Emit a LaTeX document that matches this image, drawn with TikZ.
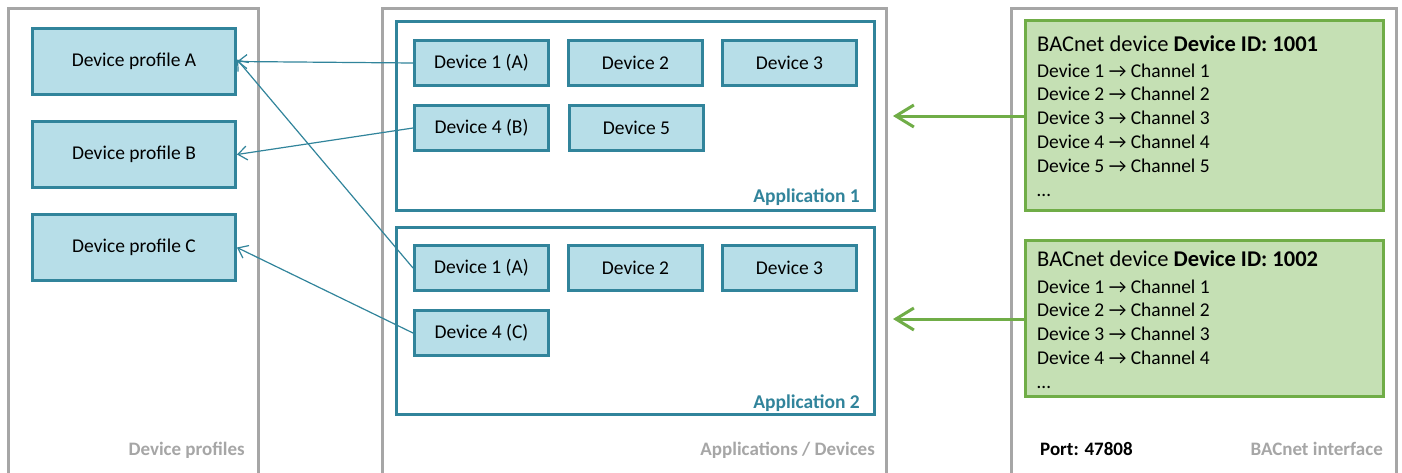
\documentclass[tikz,border=0pt]{standalone}
\usepackage{fontspec}
\setmainfont{Carlito}
\usetikzlibrary{arrows.meta}
\definecolor{teal}{HTML}{31849B}
\definecolor{lightteal}{HTML}{B7DEE8}
\definecolor{leaf}{HTML}{70AD47}
\definecolor{lightleaf}{HTML}{C5E0B4}
\definecolor{panelgray}{HTML}{A6A6A6}
\begin{document}
\begin{tikzpicture}[x=1pt,y=-1pt,
  panel/.style={draw=panelgray,line width=2.6pt,fill=white},
  profile/.style={draw=teal,fill=lightteal,line width=3pt,minimum width=203pt,minimum height=66pt,inner sep=0pt,font=\fontsize{19.5}{23}\selectfont},
  devbox/.style={draw=teal,fill=lightteal,line width=3pt,minimum width=134pt,minimum height=45pt,inner sep=0pt,font=\fontsize{19.5}{23}\selectfont},
  appbox/.style={draw=teal,fill=white,line width=2.6pt,minimum width=478pt,inner sep=0pt},
  bacbox/.style={draw=leaf,fill=lightleaf,line width=3pt,minimum width=358pt,inner sep=0pt},
  bactitle/.style={anchor=base west,inner sep=0pt,font=\fontsize{22.5}{26}\selectfont},
  bacline/.style={anchor=base west,inner sep=0pt,font=\fontsize{19.5}{23}\selectfont},
  applabel/.style={anchor=base east,inner sep=0pt,text=teal,font=\fontsize{19.5}{23}\selectfont\bfseries},
  panellabel/.style={anchor=base east,inner sep=0pt,text=panelgray,font=\fontsize{19}{23}\selectfont\bfseries},
  link/.style={draw=teal,line width=1.2pt,-{Straight Barb[length=9pt,width=14pt,line width=1.2pt]}},
  feed/.style={draw=leaf,line width=3pt,-{Straight Barb[length=18pt,width=22pt,line width=3pt]}}]
\useasboundingbox (0,0) rectangle (1402,472);

% outer panels (open towards the bottom edge)
\draw[panel] (8.5,480) -- (8.5,8.5) -- (258.5,8.5) -- (258.5,480);
\draw[panel] (382.5,480) -- (382.5,8.5) -- (886.5,8.5) -- (886.5,480);
\draw[panel] (1011.5,480) -- (1011.5,8.5) -- (1396.5,8.5) -- (1396.5,480);

% device profiles
\node[profile] (pA) at (134,61.5) {Device profile A};
\node[profile] (pB) at (134,154.5) {Device profile B};
\node[profile] (pC) at (134,247.5) {Device profile C};

% applications
\node[appbox,minimum height=189pt] (app1) at (635.5,116) {};
\node[appbox,minimum height=187pt] (app2) at (635.5,321) {};

\node[devbox] (a1d1) at (481.5,63) {Device 1 (A)};
\node[devbox] (a1d2) at (635.5,63) {Device 2};
\node[devbox] (a1d3) at (789.5,63) {Device 3};
\node[devbox] (a1d4) at (481.5,128) {Device 4 (B)};
\node[devbox] (a1d5) at (636.5,128) {Device 5};

\node[devbox] (a2d1) at (481.5,268) {Device 1 (A)};
\node[devbox] (a2d2) at (635.5,268) {Device 2};
\node[devbox] (a2d3) at (789.5,268) {Device 3};
\node[devbox] (a2d4) at (481.5,333) {Device 4 (C)};

\node[applabel] (app1lbl) at (860,202) {Application 1};
\node[applabel] (app2lbl) at (860,408) {Application 2};

% BACnet devices
\node[bacbox,minimum height=190pt] (bac1) at (1204.5,115.5) {};
\node[bacbox,minimum height=156pt] (bac2) at (1204.5,318.5) {};

\node[bactitle] (bac1title) at (1037,51.7) {BACnet device \textbf{Device ID: 1001}};
\foreach \i/\txt in {0/Device 1 → Channel 1,1/Device 2 → Channel 2,2/Device 3 → Channel 3,3/Device 4 → Channel 4,4/Device 5 → Channel 5,5/…}
  \node[bacline] (bac1line\i) at (1037,77+23.9*\i) {\txt};

\node[bactitle] (bac2title) at (1037,266.7) {BACnet device \textbf{Device ID: 1002}};
\foreach \i/\txt in {0/Device 1 → Channel 1,1/Device 2 → Channel 2,2/Device 3 → Channel 3,3/Device 4 → Channel 4,4/…}
  \node[bacline] (bac2line\i) at (1037,293+23.9*\i) {\txt};

% panel captions
\node[panellabel] (capprof) at (245,455) {Device profiles};
\node[panellabel] (capapp) at (875,455) {Applications / Devices};
\node[panellabel] (capbac) at (1383,455) {BACnet interface};
\node[anchor=base west,inner sep=0pt,font=\fontsize{19}{23}\selectfont\bfseries] (port) at (1040,455) {Port: 47808};

% profile assignments
\draw[link] (a1d1.west) -- (pA.east);
\draw[link] (a2d1.west) -- ([yshift=2pt]pA.east);
\draw[link] (a1d4.west) -- (pB.east);
\draw[link] (a2d4.west) -- (pC.east);

% BACnet mapping
\coordinate (tip1) at (893,116);
\coordinate (tip2) at (893,319);
\draw[feed] (bac1.west |- tip1) -- (tip1);
\draw[feed] (bac2.west |- tip2) -- (tip2);
\end{tikzpicture}
\end{document}
